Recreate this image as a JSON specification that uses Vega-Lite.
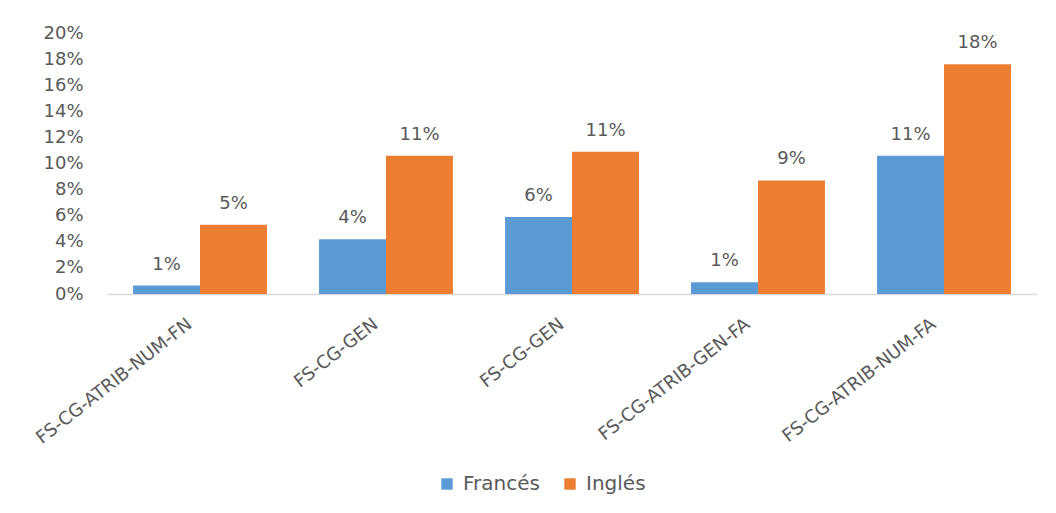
{
  "$schema": "https://vega.github.io/schema/vega-lite/v6.json",
  "width": 930,
  "height": 261,
  "autosize": {"type": "none"},
  "padding": {"left": 107, "top": 33, "right": 19, "bottom": 219},
  "background": "white",
  "config": {
    "view": {"stroke": null},
    "font": "DejaVu Sans",
    "axis": {"labelFont": "DejaVu Sans", "labelColor": "#595959"},
    "legend": {"labelFont": "DejaVu Sans", "labelColor": "#595959"}
  },
  "data": {
    "values": [
      {"cat": "FS-CG-ATRIB-NUM-FN", "lang": "Francés", "v": 0.0065},
      {"cat": "FS-CG-ATRIB-NUM-FN", "lang": "Inglés", "v": 0.053},
      {"cat": "FS-CG-GEN", "lang": "Francés", "v": 0.042},
      {"cat": "FS-CG-GEN", "lang": "Inglés", "v": 0.106},
      {"cat": "FS-CG-GEN\u200b", "lang": "Francés", "v": 0.059},
      {"cat": "FS-CG-GEN\u200b", "lang": "Inglés", "v": 0.109},
      {"cat": "FS-CG-ATRIB-GEN-FA", "lang": "Francés", "v": 0.009},
      {"cat": "FS-CG-ATRIB-GEN-FA", "lang": "Inglés", "v": 0.087},
      {"cat": "FS-CG-ATRIB-NUM-FA", "lang": "Francés", "v": 0.106},
      {"cat": "FS-CG-ATRIB-NUM-FA", "lang": "Inglés", "v": 0.176}
    ]
  },
  "encoding": {
    "x": {
      "field": "cat",
      "type": "nominal",
      "sort": null,
      "scale": {"paddingInner": 0.28, "paddingOuter": 0.14},
      "axis": {
        "title": null,
        "labelAngle": -38,
        "labelAlign": "right",
        "labelBaseline": "middle",
        "labelFontSize": 18,
        "labelPadding": 28,
        "labelOffset": -10,
        "labelLimit": 0,
        "ticks": false,
        "domainColor": "#D9D9D9",
        "domainWidth": 1.5
      }
    },
    "xOffset": {"field": "lang", "type": "nominal", "scale": {"paddingInner": 0, "paddingOuter": 0}},
    "y": {
      "field": "v",
      "type": "quantitative",
      "scale": {"domain": [0, 0.2], "nice": false},
      "axis": {
        "title": null,
        "format": ".0%",
        "values": [0, 0.02, 0.04, 0.06, 0.08, 0.1, 0.12, 0.14, 0.16, 0.18, 0.2],
        "grid": false,
        "domain": false,
        "ticks": false,
        "labelFontSize": 18,
        "labelPadding": 24
      }
    }
  },
  "layer": [
    {
      "mark": {"type": "bar"},
      "encoding": {
        "color": {
          "field": "lang",
          "type": "nominal",
          "scale": {"domain": ["Francés", "Inglés"], "range": ["#5B9BD5", "#ED7D31"]},
          "legend": {
            "title": null,
            "orient": "none",
            "legendX": 330,
            "legendY": 441,
            "direction": "horizontal",
            "symbolType": "square",
            "symbolSize": 130,
            "symbolStrokeWidth": 0,
            "labelFontSize": 20,
            "labelOffset": 6,
            "columnPadding": 20,
            "padding": 0
          }
        }
      }
    },
    {
      "mark": {"type": "text", "baseline": "alphabetic", "dy": -16, "fontSize": 18, "color": "#595959"},
      "encoding": {
        "text": {"field": "v", "type": "quantitative", "format": ".0%"}
      }
    }
  ]
}
